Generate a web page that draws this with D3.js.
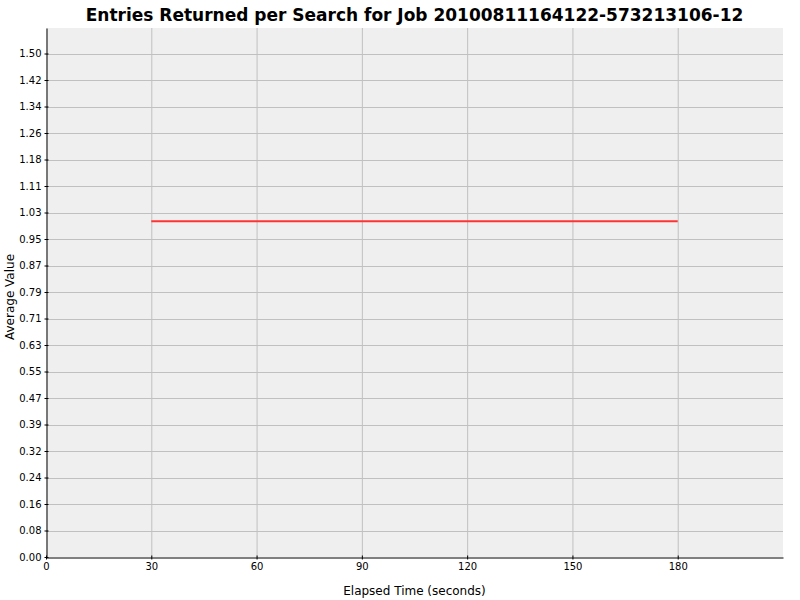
<!DOCTYPE html>
<html><head><meta charset="utf-8">
<script src="https://cdn.jsdelivr.net/npm/d3@7"></script>
<style>body{margin:0;background:#fff;} text{font-family:"DejaVu Sans",sans-serif;}</style>
</head><body>
<svg id="c" width="800" height="600"></svg>
<script>
const title = "Entries Returned per Search for Job 20100811164122-573213106-12";
const xLabel = "Elapsed Time (seconds)";
const yLabel = "Average Value";
const times = [30, 60, 90, 120, 150, 180];
const values = [1.0, 1.0, 1.0, 1.0, 1.0, 1.0];
const xTicks = [0, 30, 60, 90, 120, 150, 180];
const yTicks = [0.00,0.08,0.16,0.24,0.32,0.39,0.47,0.55,0.63,0.71,0.79,0.87,0.95,1.03,1.11,1.18,1.26,1.34,1.42,1.50];
const yTickVals = d3.range(20).map(i => i * 1.5 / 19);

const svg = d3.select("#c");
const L = 46, R = 783, T = 28, B = 557;
const x = d3.scaleLinear().domain([0, 210]).range([L, R]);
const y = d3.scaleLinear().domain([0, 1.576]).range([B, T]);

svg.append("rect").attr("x", L).attr("y", T).attr("width", R - L).attr("height", B - T).attr("fill", "#efefef");

// gridlines
svg.append("g").selectAll("line").data(xTicks.slice(1)).join("line")
  .attr("x1", d => x(d) + 0.5).attr("x2", d => x(d) + 0.5).attr("y1", T).attr("y2", B)
  .attr("stroke", "#c0c0c0").attr("stroke-width", 1);
svg.append("g").selectAll("line").data(yTickVals.slice(1)).join("line")
  .attr("x1", L).attr("x2", R).attr("y1", d => Math.round(y(d)) + 0.5).attr("y2", d => Math.round(y(d)) + 0.5)
  .attr("stroke", "#c0c0c0").attr("stroke-width", 1);

// line
const line = d3.line().x((d, i) => x(times[i])).y(d => y(d));
svg.append("path").datum(values).attr("d", line).attr("fill", "none")
  .attr("stroke", "#ff3333").attr("stroke-width", 2);

// axes
const xAxis = d3.axisBottom(x).tickValues(xTicks).tickFormat(d3.format("d")).tickSizeInner(2).tickSizeOuter(0).tickPadding(3);
const gx = svg.append("g").attr("transform", `translate(0,${B + 0.5})`).call(xAxis);
gx.select(".domain").attr("stroke", "#000");
gx.selectAll(".tick line").attr("y1", -2).attr("y2", 2);
gx.selectAll("text").attr("font-size", 10).attr("font-family", "DejaVu Sans").attr("fill", "#000");

const yAxis = d3.axisLeft(y).tickValues(yTickVals).tickFormat((d, i) => yTicks[i].toFixed(2)).tickSizeInner(2).tickSizeOuter(0).tickPadding(3);
const gy = svg.append("g").attr("transform", `translate(${L + 0.5},0)`).call(yAxis);
gy.select(".domain").attr("stroke", "#000");
gy.selectAll(".tick line").attr("x1", -2).attr("x2", 2);
gy.selectAll("text").attr("font-size", 10).attr("font-family", "DejaVu Sans").attr("fill", "#000");

svg.append("text").attr("x", (L + R) / 2).attr("y", 21).attr("text-anchor", "middle")
  .attr("font-size", 17).attr("font-weight", "bold").text(title);
svg.append("text").attr("x", (L + R) / 2).attr("y", 595).attr("text-anchor", "middle")
  .attr("font-size", 12).text(xLabel);
svg.append("text").attr("transform", `translate(14,297) rotate(-90)`).attr("text-anchor", "middle")
  .attr("font-size", 12).text(yLabel);
</script>
</body></html>
